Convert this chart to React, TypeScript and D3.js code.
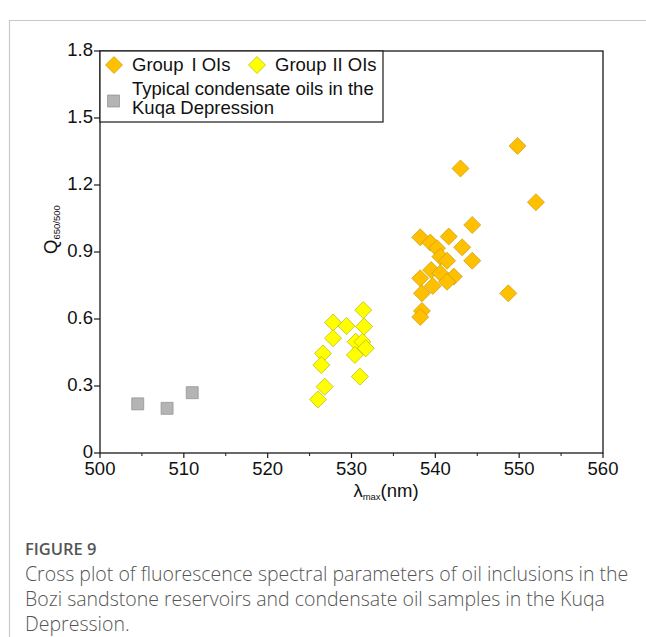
import React from "react";
import * as d3 from "d3";

// λmax (nm) and Q650/500 for each sample group
const groupOneX = [549.8, 543.0, 552.0, 544.4, 538.2, 541.6, 539.4, 540.2, 543.2, 540.6, 541.4, 544.4, 539.5, 540.6, 542.2, 538.2, 541.4, 539.7, 538.4, 548.7, 538.4, 538.2];
const groupOneY = [1.375, 1.274, 1.123, 1.021, 0.966, 0.969, 0.942, 0.917, 0.921, 0.879, 0.861, 0.861, 0.819, 0.805, 0.79, 0.782, 0.767, 0.748, 0.715, 0.715, 0.636, 0.609];

const groupTwoX = [531.4, 527.8, 529.4, 531.5, 527.8, 530.5, 531.3, 531.7, 530.4, 526.6, 526.4, 531.0, 526.8, 526.0];
const groupTwoY = [0.64, 0.584, 0.569, 0.566, 0.514, 0.498, 0.498, 0.469, 0.439, 0.446, 0.394, 0.342, 0.297, 0.24];

const kuqaX = [504.5, 508.0, 511.0];
const kuqaY = [0.22, 0.2, 0.27];

const xTicks = [500, 510, 520, 530, 540, 550, 560];
const xMinorTicks = [505, 515, 525, 535, 545, 555];
const yTicks = [0, 0.3, 0.6, 0.9, 1.2, 1.5, 1.8];
const yTickLabels = ["0", "0.3", "0.6", "0.9", "1.2", "1.5", "1.8"];

const captionLines = [
  "Cross plot of fluorescence spectral parameters of oil inclusions in the",
  "Bozi sandstone reservoirs and condensate oil samples in the Kuqa",
  "Depression.",
];

const W = 646;
const H = 637;
const plot = { left: 100, right: 603, top: 51, bottom: 453 };
const font = "'Liberation Sans', Arial, sans-serif";
const capFont = "'Open Sans', 'Noto Sans', sans-serif";
const fs = 18.5;

const x = d3.scaleLinear().domain([500, 560]).range([plot.left, plot.right]);
const y = d3.scaleLinear().domain([0, 1.8]).range([plot.bottom, plot.top]);

const diamond = (cx: number, cy: number, r: number) =>
  `M${cx},${cy - r}L${cx + r},${cy}L${cx},${cy + r}L${cx - r},${cy}Z`;
const square = (cx: number, cy: number, s: number) =>
  `M${cx - s / 2},${cy - s / 2}h${s}v${s}h${-s}Z`;

const ORANGE = "#FFC000";
const ORANGE_EDGE = "#C99A10";
const YELLOW = "#FFFF00";
const YELLOW_EDGE = "#B5B500";
const GRAY = "#B4B4B4";
const GRAY_EDGE = "#8E8E8E";

export default function App() {
  const r = 8.5;
  return (
    <svg width={W} height={H} style={{ display: "block", position: "absolute", left: 0, top: 0 }}>
      <rect x={0} y={0} width={W} height={H} fill="#fff" />
      {/* outer figure frame */}
      <path d={`M9.5,${H}V20.5H${W}`} fill="none" stroke="#c8c8c8" strokeWidth={1.2} />

      {/* data marks */}
      {kuqaX.map((v, i) => (
        <path key={"k" + i} d={square(x(v), y(kuqaY[i]), 12)} fill={GRAY} stroke={GRAY_EDGE} strokeWidth={0.7} />
      ))}
      {groupTwoX.map((v, i) => (
        <path key={"g2" + i} d={diamond(x(v), y(groupTwoY[i]), r)} fill={YELLOW} stroke={YELLOW_EDGE} strokeWidth={0.7} />
      ))}
      {groupOneX.map((v, i) => (
        <path key={"g1" + i} d={diamond(x(v), y(groupOneY[i]), r)} fill={ORANGE} stroke={ORANGE_EDGE} strokeWidth={0.7} />
      ))}

      {/* plot frame */}
      <rect
        x={plot.left}
        y={plot.top}
        width={plot.right - plot.left}
        height={plot.bottom - plot.top}
        fill="none"
        stroke="#1a1a1a"
        strokeWidth={1.3}
      />

      {/* x axis ticks */}
      {xTicks.map((t) => (
        <g key={"xt" + t}>
          <line x1={x(t)} x2={x(t)} y1={plot.bottom} y2={plot.bottom + 5} stroke="#1a1a1a" strokeWidth={1.2} />
          <text x={x(t)} y={plot.bottom + 22} textAnchor="middle" fontFamily={font} fontSize={fs} fill="#111">
            {t}
          </text>
        </g>
      ))}
      {xMinorTicks.map((t) => (
        <line key={"xm" + t} x1={x(t)} x2={x(t)} y1={plot.bottom} y2={plot.bottom + 3} stroke="#1a1a1a" strokeWidth={1} />
      ))}

      {/* y axis ticks */}
      {yTicks.map((t, i) => (
        <g key={"yt" + t}>
          <line x1={plot.left - 6} x2={plot.left} y1={y(t)} y2={y(t)} stroke="#1a1a1a" strokeWidth={1.2} />
          <text x={plot.left - 7} y={y(t) + 5} textAnchor="end" fontFamily={font} fontSize={fs} fill="#111">
            {yTickLabels[i]}
          </text>
        </g>
      ))}

      {/* axis titles */}
      <text x={386} y={497} textAnchor="middle" fontFamily={font} fontSize={fs} fill="#111">
        λ<tspan fontSize={9.5} dy={3}>max</tspan>
        <tspan dy={-3}>(nm)</tspan>
      </text>
      <text transform="translate(57,254) rotate(-90)" fontFamily={font} fontSize={fs} fill="#111">
        Q<tspan fontSize={9.5} dy={3}>650/500</tspan>
      </text>

      {/* legend */}
      <rect x={plot.left} y={plot.top} width={283} height={71} fill="#fff" stroke="#1a1a1a" strokeWidth={1.2} />
      <path d={diamond(114, 65, r)} fill={ORANGE} stroke={ORANGE_EDGE} strokeWidth={0.7} />
      <text x={132} y={71} fontFamily={font} fontSize={fs} fill="#111">
        Group<tspan dx={8}>I OIs</tspan>
      </text>
      <path d={diamond(257, 65, r)} fill={YELLOW} stroke={YELLOW_EDGE} strokeWidth={0.7} />
      <text x={275} y={71} fontFamily={font} fontSize={fs} fill="#111">
        Group<tspan dx={6}>II OIs</tspan>
      </text>
      <path d={square(113.5, 101, 12)} fill={GRAY} stroke={GRAY_EDGE} strokeWidth={0.7} />
      <text x={132} y={95} fontFamily={font} fontSize={fs} fill="#111">
        Typical condensate oils in the
      </text>
      <text x={132} y={114} fontFamily={font} fontSize={fs} fill="#111">
        Kuqa Depression
      </text>

      {/* caption */}
      <text x={25} y={555} fontFamily={capFont} fontSize={16.5} fontWeight={600} fill="#555">
        FIGURE 9
      </text>
      {captionLines.map((line, i) => (
        <text key={"c" + i} x={25} y={581 + i * 25} fontFamily={capFont} fontSize={19.5} fontWeight={300} fill="#555">
          {line}
        </text>
      ))}
    </svg>
  );
}
